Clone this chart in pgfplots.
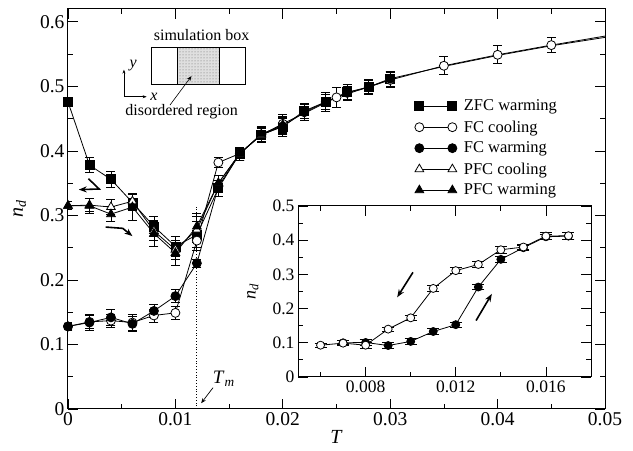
\documentclass[border=0pt]{standalone}
\usepackage{fontspec}
\setmainfont{Liberation Serif}
\usepackage{pgfplots}
\pgfplotsset{compat=1.18}
\usetikzlibrary{patterns,arrows.meta}

\pgfplotsset{
  every axis/.append style={
    scale only axis,
    tick align=inside,
    major tick length=10pt,
    minor tick length=5pt,
    scaled ticks=false,
    axis line style={line width=1pt},
    every tick/.style={black, line width=0.8pt},
    /pgf/number format/fixed,
    /pgf/number format/precision=3,
    /pgf/number format/assume math mode=true,
    error bars/y dir=both,
    error bars/y explicit,
    error bars/error bar style={line width=0.8pt},
  },
  mline/.style={black, line width=0.8pt},
}

\begin{document}
\begin{tikzpicture}
\begin{axis}[
  name=main,
  width=537pt, height=400pt,
  xmin=0, xmax=0.05, ymin=0, ymax=0.62,
  xtick={0,0.01,0.02,0.03,0.04,0.05},
  minor xtick={0.005,0.015,0.025,0.035,0.045},
  ytick={0,0.1,0.2,0.3,0.4,0.5,0.6},
  minor ytick={0.05,0.15,0.25,0.35,0.45,0.55},
  ticklabel style={font=\fontsize{19.5}{21}\selectfont},
  xlabel={\textit{T}}, ylabel={\textit{n}\textsubscript{\textit{d}}},
  label style={font=\fontsize{20}{22}\selectfont},
  xlabel style={at={(axis description cs:0.5,-0.07)}, anchor=center},
  ylabel style={at={(axis description cs:-0.09,0.5)}, anchor=center},
  error bars/error mark options={rotate=90, mark size=4.5pt, line width=0.8pt},
  legend image code/.code={\draw[mark repeat=2,mark phase=1,#1] plot coordinates {(0pt,0pt)(16pt,0pt)(33pt,0pt)};},
  legend style={at={(axis description cs:0.64,0.783)}, anchor=north west, draw=none, fill=none,
    font=\fontsize{16.5}{18}\selectfont, row sep=4.3pt,
    /tikz/every odd column/.append style={column sep=5pt}},
  legend cell align=left,
]
\coordinate (sw) at (rel axis cs:0,0);
\coordinate (ne) at (rel axis cs:1,1);

% ZFC warming
\addplot[mline, mark=square*, mark size=4.5pt, mark options={fill=black}] coordinates {
  (0,0.476) +- (0,0.006) (0.002,0.378) +- (0,0.012) (0.004,0.356) +- (0,0.012)
  (0.006,0.320) +- (0,0.012) (0.008,0.283) +- (0,0.015) (0.010,0.252) +- (0,0.015)
  (0.012,0.270) +- (0,0.020) (0.014,0.342) +- (0,0.012) (0.016,0.396) +- (0,0.010)
  (0.018,0.425) +- (0,0.012) (0.020,0.438) +- (0,0.015) (0.022,0.462) +- (0,0.012)
  (0.024,0.476) +- (0,0.014) (0.026,0.491) +- (0,0.012) (0.028,0.499) +- (0,0.012)
  (0.030,0.511) +- (0,0.012)};
\addlegendentry{ZFC warming}

% FC cooling
\addplot[mline, mark=*, mark size=4.5pt, mark options={fill=white}] coordinates {
  (0,0.128) +- (0,0.006) (0.002,0.135) +- (0,0.010) (0.004,0.137) +- (0,0.010)
  (0.006,0.134) +- (0,0.012) (0.008,0.145) +- (0,0.010) (0.010,0.149) +- (0,0.010)
  (0.012,0.261) +- (0,0.015) (0.014,0.382) +- (0,0.008) (0.016,0.396) +- (0,0.010)
  (0.018,0.425) +- (0,0.012) (0.020,0.442) +- (0,0.015) (0.025,0.483) +- (0,0.015)
  (0.030,0.510) +- (0,0.012) (0.035,0.532) +- (0,0.014) (0.040,0.549) +- (0,0.014)
  (0.045,0.564) +- (0,0.012)};
\addlegendentry{FC cooling}

% FC warming
\addplot[mline, mark=*, mark size=4.5pt, mark options={fill=black}] coordinates {
  (0,0.128) +- (0,0.005) (0.002,0.134) +- (0,0.012) (0.004,0.142) +- (0,0.012)
  (0.006,0.132) +- (0,0.012) (0.008,0.152) +- (0,0.010) (0.010,0.175) +- (0,0.010)
  (0.012,0.226) +- (0,0.006) (0.014,0.345) +- (0,0.010) (0.016,0.396) +- (0,0.008)
  (0.018,0.425) +- (0,0.010) (0.020,0.438) +- (0,0.012) (0.022,0.460) +- (0,0.012)
  (0.024,0.476) +- (0,0.012) (0.026,0.490) +- (0,0.010) (0.028,0.499) +- (0,0.010)
  (0.030,0.512) +- (0,0.012)};
\addlegendentry{FC warming}

% PFC cooling
\addplot[mline, mark=triangle*, mark size=5pt, mark options={fill=white}] coordinates {
  (0,0.315) +- (0,0.006) (0.002,0.316) +- (0,0.010) (0.004,0.313) +- (0,0.012)
  (0.006,0.322) +- (0,0.012) (0.008,0.276) +- (0,0.015) (0.010,0.247) +- (0,0.015)
  (0.012,0.278) +- (0,0.020) (0.014,0.350) +- (0,0.012) (0.016,0.396) +- (0,0.010)
  (0.018,0.425) +- (0,0.012) (0.020,0.440) +- (0,0.012)};
\addlegendentry{PFC cooling}

% PFC warming
\addplot[mline, mark=triangle*, mark size=5pt, mark options={fill=black}] coordinates {
  (0,0.315) +- (0,0.006) (0.002,0.315) +- (0,0.012) (0.004,0.302) +- (0,0.012)
  (0.006,0.313) +- (0,0.020) (0.008,0.272) +- (0,0.020) (0.010,0.242) +- (0,0.020)
  (0.012,0.283) +- (0,0.020) (0.014,0.350) +- (0,0.012) (0.016,0.396) +- (0,0.010)
  (0.018,0.426) +- (0,0.012) (0.020,0.440) +- (0,0.012)};
\addlegendentry{PFC warming}

% continuation of the curve to the right edge
\addplot[mline, no marks, forget plot] coordinates {(0.045,0.564)(0.050,0.578)};
\addplot[mline, no marks, forget plot] coordinates {(0.030,0.512)(0.035,0.531)(0.040,0.548)(0.045,0.563)(0.050,0.576)};

% T_m marker
\draw[dotted, line width=0.8pt] (axis cs:0.012,0) -- (axis cs:0.012,0.314);
\node[font=\fontsize{19}{21}\selectfont] at (axis cs:0.0145,0.047) {\textit{T}\textsubscript{\textit{m}}};
\draw[-{Stealth[length=5pt,width=4pt]}, line width=0.7pt] (axis cs:0.0135,0.033) -- (axis cs:0.0124,0.009);

% history arrows
\draw[-{Stealth[length=8pt,width=6pt]}, line width=1.6pt] (axis cs:0.0019,0.357) -- (axis cs:0.0029,0.341) -- (axis cs:0.0010,0.340);
\draw[-{Stealth[length=8pt,width=6pt]}, line width=1.6pt] (axis cs:0.0035,0.282) -- (axis cs:0.0051,0.280) -- (axis cs:0.0060,0.268);

% simulation box sketch
\node[font=\fontsize{16}{18}\selectfont] at (axis cs:0.01244,0.580) {simulation box};
\fill[gray!25] (axis cs:0.0102,0.503) rectangle (axis cs:0.01414,0.560);
\fill[pattern=dots, pattern color=gray!80!black] (axis cs:0.0102,0.503) rectangle (axis cs:0.01414,0.560);
\draw[line width=0.8pt] (axis cs:0.00779,0.503) rectangle (axis cs:0.01653,0.560);
\draw[line width=1.2pt] (axis cs:0.0102,0.503) -- (axis cs:0.0102,0.560);
\draw[line width=1.2pt] (axis cs:0.01414,0.503) -- (axis cs:0.01414,0.560);
\draw[-{Stealth[length=4pt,width=3pt]}, line width=0.6pt] (axis cs:0.00521,0.484) -- (axis cs:0.00521,0.526);
\draw[-{Stealth[length=4pt,width=3pt]}, line width=0.6pt] (axis cs:0.00521,0.484) -- (axis cs:0.00732,0.484);
\node[font=\fontsize{16}{18}\selectfont\itshape] at (axis cs:0.00608,0.533) {y};
\node[font=\fontsize{16}{18}\selectfont\itshape] at (axis cs:0.00800,0.484) {x};
\node[font=\fontsize{16}{18}\selectfont] at (axis cs:0.01058,0.461) {disordered region};
\draw[-{Stealth[length=5pt,width=4pt]}, line width=0.6pt] (axis cs:0.00949,0.471) -- (axis cs:0.0115,0.516);
\end{axis}

\begin{axis}[
  at={(main.south west)}, anchor=south west, xshift=230pt, yshift=32pt,
  width=293pt, height=171pt,
  axis background/.style={fill=white},
  xmin=0.005, xmax=0.018, ymin=0, ymax=0.5,
  xtick={0.008,0.012,0.016},
  minor xtick={0.006,0.010,0.014},
  ytick={0,0.1,0.2,0.3,0.4,0.5},
  minor ytick={0.05,0.15,0.25,0.35,0.45},
  ticklabel style={font=\fontsize{17.5}{19}\selectfont},
  ylabel={\textit{n}\textsubscript{\textit{d}}},
  label style={font=\fontsize{18}{20}\selectfont},
  ylabel style={at={(axis description cs:-0.154,0.5)}, anchor=center},
  error bars/error mark options={rotate=90, mark size=6pt, line width=0.8pt},
]
% FC warming
\addplot[mline, mark=*, mark size=4pt, mark options={fill=black}] coordinates {
  (0.007,0.100) +- (0,0.006) (0.008,0.101) +- (0,0.008) (0.009,0.092) +- (0,0.008)
  (0.010,0.104) +- (0,0.008) (0.011,0.133) +- (0,0.008) (0.012,0.153) +- (0,0.008)
  (0.013,0.263) +- (0,0.008) (0.014,0.344) +- (0,0.008) (0.015,0.378) +- (0,0.008)
  (0.016,0.410) +- (0,0.008) (0.017,0.412) +- (0,0.010)};
% FC cooling
\addplot[mline, mark=*, mark size=4pt, mark options={fill=white}] coordinates {
  (0.006,0.093) +- (0,0.006) (0.007,0.099) +- (0,0.008) (0.008,0.093) +- (0,0.008)
  (0.009,0.140) +- (0,0.006) (0.010,0.173) +- (0,0.008) (0.011,0.259) +- (0,0.008)
  (0.012,0.311) +- (0,0.008) (0.013,0.329) +- (0,0.008) (0.014,0.372) +- (0,0.010)
  (0.015,0.380) +- (0,0.008) (0.016,0.412) +- (0,0.010) (0.017,0.413) +- (0,0.010)};
\draw[-{Stealth[length=8pt,width=6pt]}, line width=1.6pt] (axis cs:0.0101,0.306) -- (axis cs:0.0094,0.233);
\draw[-{Stealth[length=8pt,width=6pt]}, line width=1.6pt] (axis cs:0.0129,0.165) -- (axis cs:0.0136,0.243);
\node[font=\fontsize{18}{20}\selectfont\itshape, anchor=base] at ([yshift=-16pt]axis cs:0.014,0) {T};
\end{axis}

\pgfresetboundingbox
\path ([shift={(-68pt,-42pt)}]sw) rectangle ([shift={(28pt,9pt)}]ne);
\end{tikzpicture}
\end{document}
